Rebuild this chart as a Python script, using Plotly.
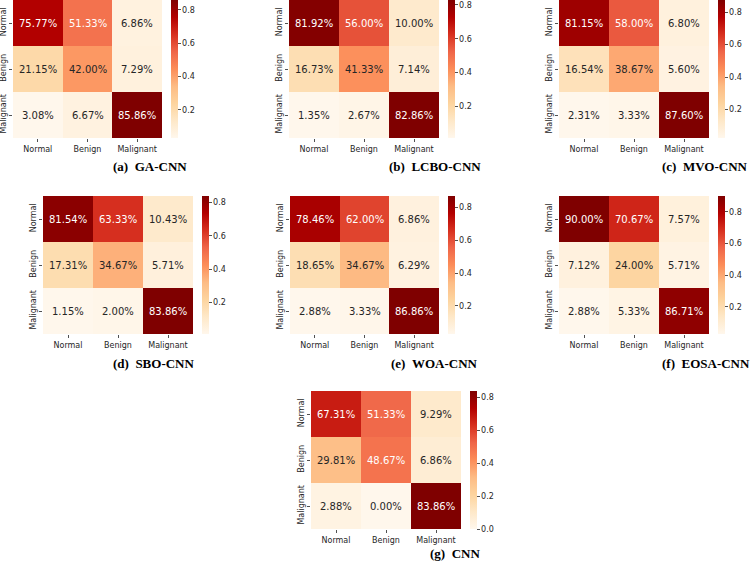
import plotly.graph_objects as go
from plotly.colors import sample_colorscale

classes = ["Normal", "Benign", "Malignant"]

ga_cnn = [[75.77, 51.33, 6.86], [21.15, 42.00, 7.29], [3.08, 6.67, 85.86]]
lcbo_cnn = [[81.92, 56.00, 10.00], [16.73, 41.33, 7.14], [1.35, 2.67, 82.86]]
mvo_cnn = [[81.15, 58.00, 6.80], [16.54, 38.67, 5.60], [2.31, 3.33, 87.60]]
sbo_cnn = [[81.54, 63.33, 10.43], [17.31, 34.67, 5.71], [1.15, 2.00, 83.86]]
woa_cnn = [[78.46, 62.00, 6.86], [18.65, 34.67, 6.29], [2.88, 3.33, 86.86]]
eosa_cnn = [[90.00, 70.67, 7.57], [7.12, 24.00, 5.71], [2.88, 5.33, 86.71]]
cnn = [[67.31, 51.33, 9.29], [29.81, 48.67, 6.86], [2.88, 0.00, 83.86]]

captions = ["(a)\u00a0\u00a0GA-CNN", "(b)\u00a0\u00a0LCBO-CNN", "(c)\u00a0\u00a0MVO-CNN",
            "(d)\u00a0\u00a0SBO-CNN", "(e)\u00a0\u00a0WOA-CNN", "(f)\u00a0\u00a0EOSA-CNN",
            "(g)\u00a0\u00a0CNN"]
matrices = [ga_cnn, lcbo_cnn, mvo_cnn, sbo_cnn, woa_cnn, eosa_cnn, cnn]
cbar_ticks = [0.0, 0.2, 0.4, 0.6, 0.8]

W, H = 750, 561
# layout in pixels: heatmap (left, right, top, bottom), colorbar left, caption centre
panels = [
    dict(hm=(13, 162, 0, 138), cb=171, cap=(150, 167)),
    dict(hm=(289, 439, 0, 138), cb=448, cap=(435, 166)),
    dict(hm=(559, 709, 0, 138), cb=718, cap=(705, 166)),
    dict(hm=(43, 193, 196, 334), cb=202, cap=(154, 363)),
    dict(hm=(290, 439, 196, 334), cb=448, cap=(434, 363)),
    dict(hm=(559, 709, 196, 334), cb=718, cap=(706, 363)),
    dict(hm=(311, 461, 391, 529), cb=470, cap=(455, 553)),
]

TXT = "#262626"


def lum(rgbstr):
    vals = [float(v) / 255 for v in rgbstr[rgbstr.index("(") + 1:-1].split(",")[:3]]
    lin = [v / 12.92 if v <= 0.03928 else ((v + 0.055) / 1.055) ** 2.4 for v in vals]
    return 0.2126 * lin[0] + 0.7152 * lin[1] + 0.0722 * lin[2]


fig = go.Figure()
annotations = []
for i, (mat, p, cap) in enumerate(zip(matrices, panels, captions)):
    k = "" if i == 0 else str(i + 1)
    l, r, t, b = p["hm"]
    z = [[v / 100 for v in row] for row in mat]
    flat = [v for row in z for v in row]
    zmin, zmax = min(flat), max(flat)
    fig.add_trace(go.Heatmap(
        z=z, x=classes, y=classes, xaxis="x" + k, yaxis="y" + k,
        coloraxis="coloraxis" + k, hoverinfo="skip", xgap=0, ygap=0))
    fig.layout["xaxis" + k] = dict(
        domain=[l / W, r / W], anchor="y" + k, showgrid=False, zeroline=False,
        showline=False, ticks="outside", ticklen=3, tickcolor=TXT, tickwidth=0.8,
        tickfont=dict(family="DejaVu Sans", size=8, color=TXT), fixedrange=True,
        automargin=False)
    fig.layout["yaxis" + k] = dict(
        domain=[1 - b / H, 1 - t / H], anchor="x" + k, autorange="reversed",
        showgrid=False, zeroline=False, showline=False, ticks="outside", ticklen=3,
        tickcolor=TXT, tickwidth=0.8, tickangle=-90,
        tickfont=dict(family="DejaVu Sans", size=8, color=TXT), fixedrange=True,
        automargin=False)
    fig.layout["coloraxis" + k] = dict(
        colorscale="OrRd", cmin=zmin, cmax=zmax,
        colorbar=dict(
            x=p["cb"] / W, xanchor="left", xpad=0, y=1 - t / H, yanchor="top", ypad=0,
            len=b - t, lenmode="pixels", thickness=7, thicknessmode="pixels",
            outlinewidth=0, ticks="outside", ticklen=3, tickwidth=0.8, tickcolor=TXT,
            tickvals=cbar_ticks, tickformat=".1f",
            tickfont=dict(family="DejaVu Sans", size=8, color=TXT)))
    for ri, row in enumerate(mat):
        for ci, v in enumerate(row):
            norm = (v / 100 - zmin) / (zmax - zmin)
            col = sample_colorscale("OrRd", [norm])[0]
            fc = "white" if lum(col) < 0.408 else TXT
            annotations.append(dict(
                x=classes[ci], y=classes[ri], xref="x" + k, yref="y" + k,
                text=f"{v:.2f}%", showarrow=False,
                font=dict(family="DejaVu Sans", size=10, color=fc)))
    cx, cy = p["cap"]
    annotations.append(dict(
        x=cx / W, y=1 - cy / H, xref="paper", yref="paper", xanchor="center",
        yanchor="middle", text="<b>" + cap + "</b>", showarrow=False,
        font=dict(family="Liberation Serif", size=13, color="black")))

fig.update_layout(
    width=W, height=H, margin=dict(l=0, r=0, t=0, b=0, autoexpand=False),
    paper_bgcolor="white", plot_bgcolor="white", showlegend=False,
    annotations=annotations)

fig.write_html(
    "out.html",
    config={"displayModeBar": False, "staticPlot": True},
    post_script="document.body.style.margin='0';document.body.style.overflow='hidden';")
